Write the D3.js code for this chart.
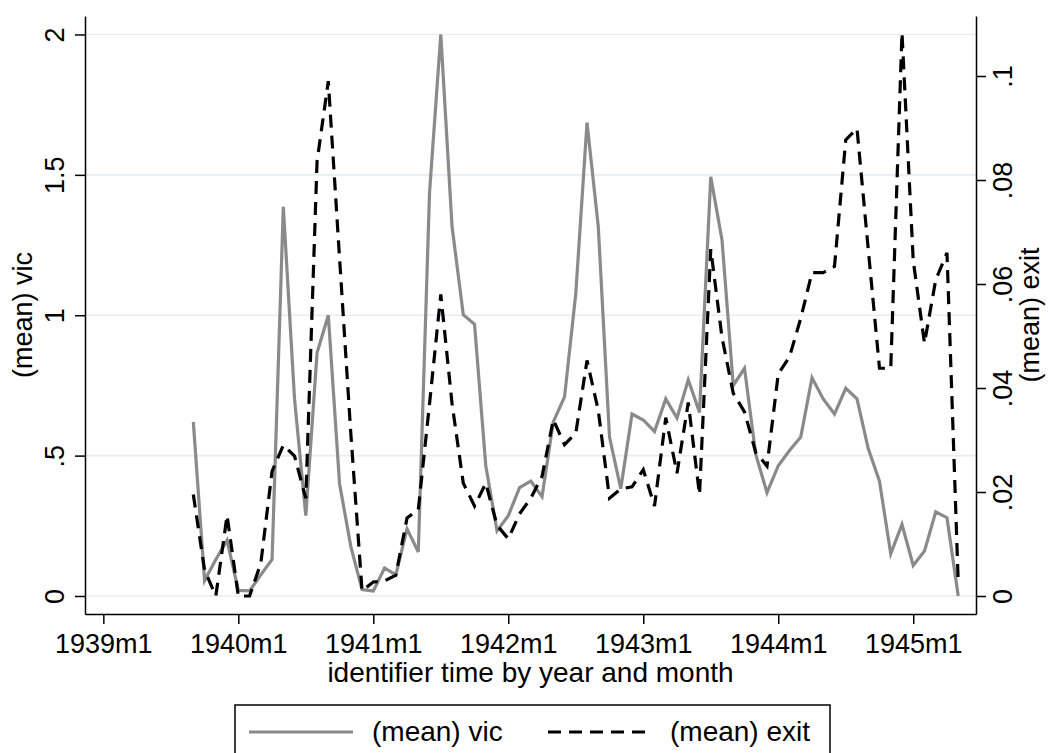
<!DOCTYPE html>
<meta charset="utf-8">
<script src="https://d3js.org/d3.v7.min.js"></script>
<style>
  body { margin: 0; background: #fff; }
  svg text { font-family: "Liberation Sans", Arial, sans-serif; fill: #000; }
</style>
<div id="my_dataviz"></div>
<script>
// monthly observations, 1939m9 .. 1945m5
var months = [
  "1939m9","1939m10","1939m11","1939m12",
  "1940m1","1940m2","1940m3","1940m4","1940m5","1940m6","1940m7","1940m8","1940m9","1940m10","1940m11","1940m12",
  "1941m1","1941m2","1941m3","1941m4","1941m5","1941m6","1941m7","1941m8","1941m9","1941m10","1941m11","1941m12",
  "1942m1","1942m2","1942m3","1942m4","1942m5","1942m6","1942m7","1942m8","1942m9","1942m10","1942m11","1942m12",
  "1943m1","1943m2","1943m3","1943m4","1943m5","1943m6","1943m7","1943m8","1943m9","1943m10","1943m11","1943m12",
  "1944m1","1944m2","1944m3","1944m4","1944m5","1944m6","1944m7","1944m8","1944m9","1944m10","1944m11","1944m12",
  "1945m1","1945m2","1945m3","1945m4","1945m5"
];

var vic = [
  0.62, 0.055, 0.13, 0.198,
  0.02, 0.018, 0.075, 0.13, 1.386, 0.70, 0.286, 0.866, 1.0, 0.40, 0.177, 0.023,
  0.018, 0.10, 0.075, 0.239, 0.157, 1.438, 2.0, 1.316, 1.002, 0.968, 0.464, 0.232,
  0.286, 0.386, 0.409, 0.354, 0.62, 0.709, 1.077, 1.686, 1.316, 0.566, 0.382, 0.648,
  0.627, 0.586, 0.702, 0.634, 0.77, 0.654, 1.493, 1.268, 0.75, 0.811, 0.504, 0.368,
  0.464, 0.518, 0.566, 0.777, 0.702, 0.648, 0.74, 0.702, 0.525, 0.409, 0.15, 0.255,
  0.109, 0.16, 0.30, 0.279, 0.0
];

var exit = [
  0.0195, 0.005, 0.0, 0.0155,
  0.0, 0.0, 0.0063, 0.024, 0.029, 0.0269, 0.0188, 0.0836, 0.099, 0.065, 0.0313, 0.001,
  0.0027, 0.0029, 0.004, 0.015, 0.0166, 0.037, 0.058, 0.037, 0.0217, 0.0173, 0.0217, 0.0136,
  0.011, 0.0158, 0.0188, 0.023, 0.0339, 0.0291, 0.0313, 0.0453, 0.0357, 0.0188, 0.0206, 0.021,
  0.0243, 0.0173, 0.0343, 0.0236, 0.0372, 0.0195, 0.0667, 0.0497, 0.039, 0.0354, 0.0276, 0.025,
  0.0427, 0.046, 0.0534, 0.0622, 0.0622, 0.0634, 0.0877, 0.0899, 0.0667, 0.0438, 0.0438, 0.1083,
  0.0645, 0.0486, 0.0608, 0.066, 0.0026
];

var xTickLabels = ["1939m1","1940m1","1941m1","1942m1","1943m1","1944m1","1945m1"];
var vicTicks = [0, 0.5, 1, 1.5, 2];
var exitTicks = [0, 0.02, 0.04, 0.06, 0.08, 0.1];

// month index counted from 1939m1
function monthIndex(s) {
  var p = s.split("m");
  return (+p[0] - 1939) * 12 + (+p[1] - 1);
}
// Stata style: drop the leading zero
function stataFmt(v) {
  return String(+v.toFixed(3)).replace(/^0\./, ".");
}

var W = 1049, H = 753;
var plot = {left: 85, right: 976, top: 16, bottom: 614};

var svg = d3.select("#my_dataviz")
  .append("svg")
    .attr("width", W)
    .attr("height", H);

var x = d3.scaleLinear()
  .domain([-1.63, 77.58])
  .range([plot.left, plot.right]);

var yL = d3.scaleLinear()
  .domain([-0.0641, 2.0658])
  .range([plot.bottom, plot.top]);

var yR = d3.scaleLinear()
  .domain([-0.00346, 0.11154])
  .range([plot.bottom, plot.top]);

// grid lines at left axis ticks
svg.append("g")
  .selectAll("line")
  .data(vicTicks)
  .enter().append("line")
    .attr("x1", plot.left)
    .attr("x2", plot.right)
    .attr("y1", function(d) { return yL(d); })
    .attr("y2", function(d) { return yL(d); })
    .style("stroke", "#e6eef1")
    .style("stroke-width", 1.6);

var data = months.map(function(m, i) {
  return {m: monthIndex(m), vic: vic[i], exit: exit[i]};
});

var lineVic = d3.line()
  .x(function(d) { return x(d.m); })
  .y(function(d) { return yL(d.vic); });

var lineExit = d3.line()
  .x(function(d) { return x(d.m); })
  .y(function(d) { return yR(d.exit); });

svg.append("path")
  .datum(data)
  .attr("d", lineVic)
  .style("fill", "none")
  .style("stroke", "#8a8a8a")
  .style("stroke-width", 3.2);

svg.append("path")
  .datum(data)
  .attr("d", lineExit)
  .style("fill", "none")
  .style("stroke", "#000")
  .style("stroke-width", 3.2)
  .style("stroke-dasharray", "13,8");

// x axis
var xAxis = svg.append("g")
  .attr("transform", "translate(0," + plot.bottom + ")")
  .call(d3.axisBottom(x)
    .tickValues(xTickLabels.map(monthIndex))
    .tickFormat(function(d, i) { return xTickLabels[i]; })
    .tickSize(10)
    .tickSizeOuter(0));
xAxis.selectAll("text")
  .attr("y", 39)
  .attr("dy", null)
  .style("font-size", "27px");

// left axis
var lAxis = svg.append("g")
  .attr("transform", "translate(" + plot.left + ",0)")
  .call(d3.axisLeft(yL)
    .tickValues(vicTicks)
    .tickFormat(stataFmt)
    .tickSize(10)
    .tickSizeOuter(0));
lAxis.selectAll("text")
  .attr("x", null).attr("dy", null)
  .attr("transform", "translate(-21,0) rotate(-90)")
  .attr("text-anchor", "middle")
  .style("font-size", "27px");

// right axis
var rAxis = svg.append("g")
  .attr("transform", "translate(" + plot.right + ",0)")
  .call(d3.axisRight(yR)
    .tickValues(exitTicks)
    .tickFormat(stataFmt)
    .tickSize(10)
    .tickSizeOuter(0));
rAxis.selectAll("text")
  .attr("x", null).attr("dy", null)
  .attr("transform", "translate(36,0) rotate(-90)")
  .attr("text-anchor", "middle")
  .style("font-size", "27px");

svg.selectAll(".domain, .tick line")
  .style("stroke", "#000")
  .style("stroke-width", 1.5);

// axis titles
svg.append("text")
  .attr("x", (plot.left + plot.right) / 2)
  .attr("y", 682)
  .attr("text-anchor", "middle")
  .style("font-size", "28px")
  .text("identifier time by year and month");

svg.append("text")
  .attr("transform", "translate(32," + (plot.top + plot.bottom) / 2 + ") rotate(-90)")
  .attr("text-anchor", "middle")
  .style("font-size", "27px")
  .text("(mean) vic");

svg.append("text")
  .attr("transform", "translate(1039," + (plot.top + plot.bottom) / 2 + ") rotate(-90)")
  .attr("text-anchor", "middle")
  .style("font-size", "27px")
  .text("(mean) exit");

// legend
var legend = svg.append("g");
legend.append("rect")
  .attr("x", 235).attr("y", 705)
  .attr("width", 595).attr("height", 60)
  .style("fill", "#fff")
  .style("stroke", "#000")
  .style("stroke-width", 1.5);

legend.append("line")
  .attr("x1", 249).attr("x2", 353)
  .attr("y1", 732).attr("y2", 732)
  .style("stroke", "#8a8a8a")
  .style("stroke-width", 3.2);
legend.append("text")
  .attr("x", 372).attr("y", 741)
  .style("font-size", "28px")
  .text("(mean) vic");

legend.append("line")
  .attr("x1", 548).attr("x2", 652)
  .attr("y1", 732).attr("y2", 732)
  .style("stroke", "#000")
  .style("stroke-width", 3.2)
  .style("stroke-dasharray", "13,8");
legend.append("text")
  .attr("x", 670).attr("y", 741)
  .style("font-size", "28px")
  .text("(mean) exit");
</script>
